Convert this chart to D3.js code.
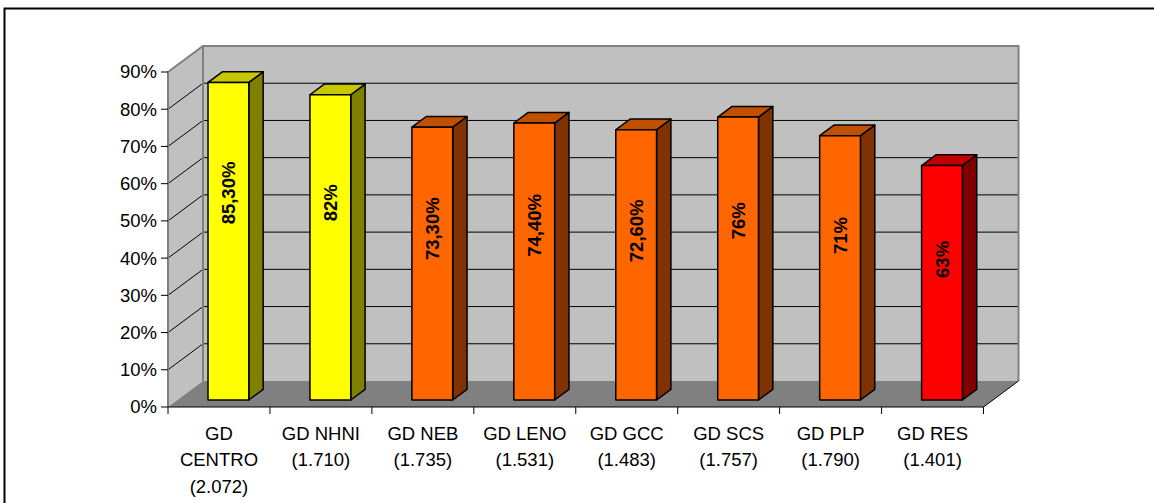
<!DOCTYPE html>
<html>
<head>
<meta charset="utf-8">
<script src="https://cdn.jsdelivr.net/npm/d3@7"></script>
<style>
  body { margin: 0; background: #fff; }
  svg { display: block; font-family: Arial, "Liberation Sans", sans-serif; }
</style>
</head>
<body>
<svg width="1154" height="503"></svg>
<script>
// chart values
var categories = ["GD CENTRO", "GD NHNI", "GD NEB", "GD LENO", "GD GCC", "GD SCS", "GD PLP", "GD RES"];
var counts = ["(2.072)", "(1.710)", "(1.735)", "(1.531)", "(1.483)", "(1.757)", "(1.790)", "(1.401)"];
var values = [85.3, 82, 73.3, 74.4, 72.6, 76, 71, 63];
var valueLabels = ["85,30%", "82%", "73,30%", "74,40%", "72,60%", "76%", "71%", "63%"];
var barColors = ["yellow", "yellow", "orange", "orange", "orange", "orange", "orange", "red"];
var yTicks = [0, 10, 20, 30, 40, 50, 60, 70, 80, 90];

var palette = {
  yellow: { front: "#ffff00", top: "#c8c800", side: "#808000" },
  orange: { front: "#ff6600", top: "#c05000", side: "#803300" },
  red:    { front: "#ff0000", top: "#c00000", side: "#800000" }
};

var svg = d3.select("svg");

// outer frame
svg.append("rect")
    .attr("x", 4.5).attr("y", 8.5)
    .attr("width", 1170).attr("height", 520)
    .style("fill", "none").style("stroke", "#000").style("stroke-width", 2);

var left = 168, right = 983.5;
var DX = 35, DY = -26;   // depth of the 3d box

var y = d3.scaleLinear().domain([0, 90]).range([407, 72]);
var x = d3.scaleBand().domain(categories).range([left, right])
    .paddingInner(0.6).paddingOuter(0.3);
var step = x.step();

// projection of a point at depth d (0 front, 1 back)
function px(xx, d) { return xx + DX * d; }
function py(yy, d) { return yy + DY * d; }

// walls
svg.append("polygon")
    .attr("points", [[left, y(90)], [px(left, 1), py(y(90), 1)], [px(left, 1), py(y(0), 1)], [left, y(0)]].join(" "))
    .style("fill", "#c0c0c0");
svg.append("rect")
    .attr("x", px(left, 1)).attr("y", py(y(90), 1))
    .attr("width", right - left).attr("height", y(0) - y(90))
    .style("fill", "#c0c0c0");
svg.append("polygon")
    .attr("points", [[left, y(0)], [right, y(0)], [px(right, 1), py(y(0), 1)], [px(left, 1), py(y(0), 1)]].join(" "))
    .style("fill", "#808080");

// gridlines
var grid = svg.append("g");
yTicks.filter(function(d) { return d > 0 && d < 90; }).forEach(function(t) {
  grid.append("polyline")
      .attr("points", [[left, y(t)], [px(left, 1), py(y(t), 1)], [px(right, 1), py(y(t), 1)]].join(" "))
      .style("fill", "none").style("stroke", "#000").style("stroke-width", 1);
});

// wall edges
svg.append("polyline")
    .attr("points", [[left, y(0)], [left, y(90)], [px(left, 1), py(y(90), 1)], [px(right, 1), py(y(90), 1)], [px(right, 1), py(y(0), 1)]].join(" "))
    .style("fill", "none").style("stroke", "#808080").style("stroke-width", 2);
svg.append("line")
    .attr("x1", px(left, 1)).attr("y1", py(y(90), 1))
    .attr("x2", px(left, 1)).attr("y2", py(y(0), 1))
    .style("stroke", "#808080").style("stroke-width", 2);

// floor front & right edges
svg.append("polyline")
    .attr("points", [[left, y(0)], [right, y(0)], [px(right, 1), py(y(0), 1)]].join(" "))
    .style("fill", "none").style("stroke", "#000").style("stroke-width", 1);

// y axis ticks and labels
yTicks.forEach(function(t) {
  svg.append("line")
      .attr("x1", left - 7).attr("x2", left)
      .attr("y1", y(t)).attr("y2", y(t))
      .style("stroke", "#000");
  svg.append("text")
      .attr("x", left - 11).attr("y", y(t))
      .attr("dy", "0.35em")
      .attr("text-anchor", "end")
      .style("font-size", "18.5px")
      .text(t + "%");
});

// x axis ticks
d3.range(categories.length + 1).forEach(function(i) {
  var xx = left + i * step;
  svg.append("line")
      .attr("x1", xx).attr("x2", xx)
      .attr("y1", y(0)).attr("y2", y(0) + 7)
      .style("stroke", "#000");
});

// bars
var d0 = 0.27, d1 = 0.68;
var bars = svg.append("g");
categories.forEach(function(c, i) {
  var col = palette[barColors[i]];
  var x0 = px(x(c), d0), x1 = x0 + x.bandwidth();
  var yb = py(y(0), d0), yt = py(y(values[i]), d0);
  var ddx = DX * (d1 - d0), ddy = DY * (d1 - d0);
  var g = bars.append("g").style("stroke", "#000").style("stroke-width", 1.5).style("stroke-linejoin", "round");
  g.append("polygon")
      .attr("points", [[x1, yt], [x1 + ddx, yt + ddy], [x1 + ddx, yb + ddy], [x1, yb]].join(" "))
      .style("fill", col.side);
  g.append("polygon")
      .attr("points", [[x0, yt], [x0 + ddx, yt + ddy], [x1 + ddx, yt + ddy], [x1, yt]].join(" "))
      .style("fill", col.top);
  g.append("rect")
      .attr("x", x0).attr("y", yt)
      .attr("width", x1 - x0).attr("height", yb - yt)
      .style("fill", col.front);

  var cx = (x0 + x1) / 2;
  var cy = y(values[i] * 0.8) + 40;
  svg.append("text")
      .attr("transform", "translate(" + cx + "," + cy + ") rotate(-90)")
      .attr("text-anchor", "middle")
      .attr("dy", "0.36em")
      .style("font-size", "18.5px")
      .style("font-weight", "bold")
      .text(valueLabels[i]);
});

// category labels (wrapped to the category width)
categories.forEach(function(c, i) {
  var t = svg.append("text")
      .attr("text-anchor", "middle")
      .style("font-size", "18.5px");
  var cx = x(c) + x.bandwidth() / 2;
  var words = c.split(" "), lines = [], line = "";
  var probe = t.append("tspan");
  words.forEach(function(w) {
    var test = line ? line + " " + w : w;
    probe.text(test);
    if (line && probe.node().getComputedTextLength() > step - 4) {
      lines.push(line);
      line = w;
    } else {
      line = test;
    }
  });
  lines.push(line);
  probe.remove();
  lines.push(counts[i]);
  lines.forEach(function(l, k) {
    t.append("tspan")
        .attr("x", cx)
        .attr("y", 439.5 + k * 26.5)
        .text(l);
  });
});
</script>
</body>
</html>
